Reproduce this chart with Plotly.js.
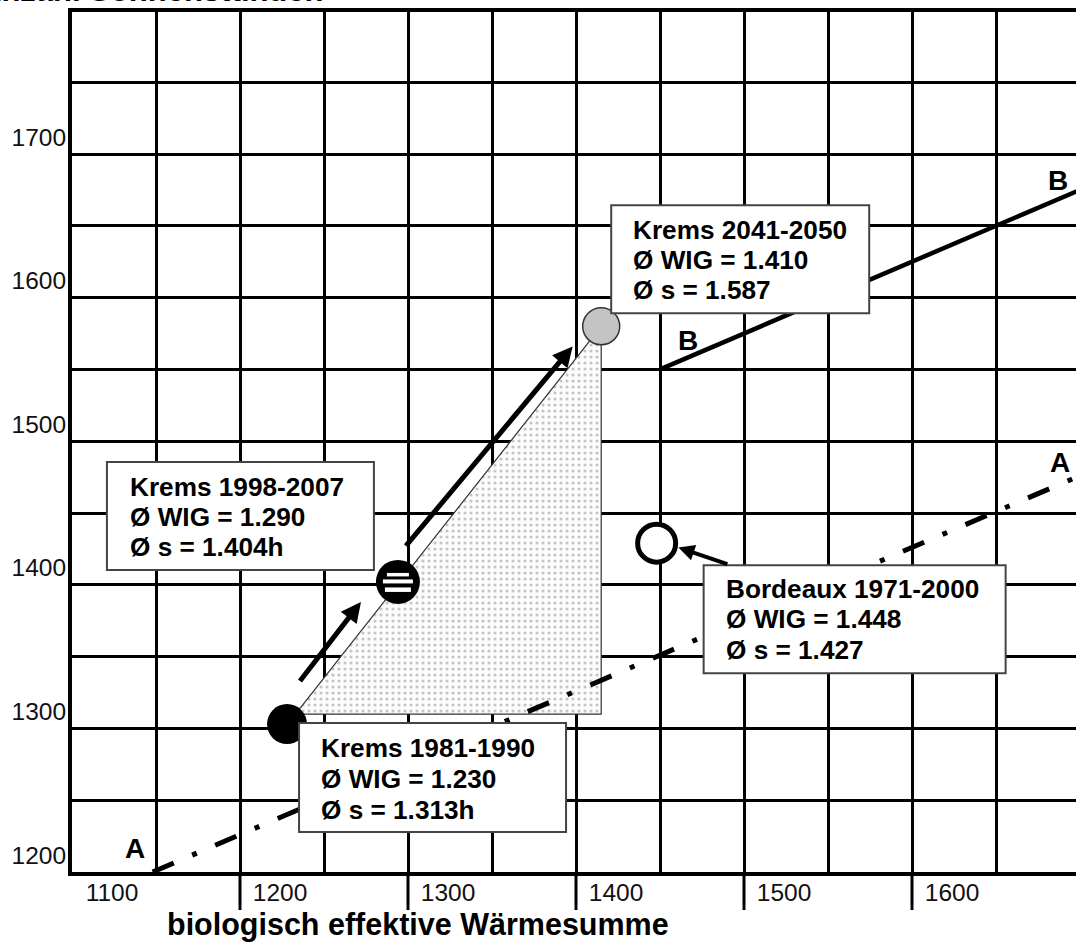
<!DOCTYPE html>
<html>
<head>
<meta charset="utf-8">
<script src="https://cdn.plot.ly/plotly-3.0.1.min.js"></script>
<style>
html, body { margin: 0; padding: 0; background: #ffffff; }
#chart { width: 1076px; height: 943px; }
</style>
</head>
<body>
<div id="chart"></div>
<script>
// ---------------- data ----------------
const siteNames = ['Krems 1981-1990', 'Krems 1998-2007', 'Krems 2041-2050', 'Bordeaux 1971-2000'];
const wigText = ['Ø WIG = 1.230', 'Ø WIG = 1.290', 'Ø WIG = 1.410', 'Ø WIG = 1.448'];
const sunText = ['Ø s = 1.313h', 'Ø s = 1.404h', 'Ø s = 1.587', 'Ø s = 1.427'];
// plotted positions of the four circles (biologisch effektive Wärmesumme / Sonnenstunden)
const wigPos = [1228, 1294, 1415, 1448];
const sunPos = [1303, 1402, 1580, 1429];
// shaded triangle
const shadeWig = [1233, 1415, 1415, 1233];
const shadeSun = [1310, 1580, 1310, 1310];
// reference lines A (dash-dot) and B (solid)
const lineAWig = [1148, 1700];
const lineASun = [1200, 1476];
const lineBWig = [1450, 1700];
const lineBSun = [1550, 1675];
const lineLabels = ['A', 'B'];
// arrows (tail -> head)
const arrowTailWig = [1235, 1298, 1491];
const arrowTailSun = [1332, 1426, 1414];
const arrowHeadWig = [1272, 1398, 1461];
const arrowHeadSun = [1388, 1566, 1426];
// axis ticks
const xTickVals = [1100, 1200, 1300, 1400, 1500, 1600];
const xTickText = ['1100', '1200', '1300', '1400', '1500', '1600'];
const yTickVals = [1200, 1300, 1400, 1500, 1600, 1700];
const yTickText = ['1200', '1300', '1400', '1500', '1600', '1700'];
const xTitle = 'biologisch effektive Wärmesumme';
const yTitle = 'Anzahl Sonnenstunden';

// ---------------- layout helpers ----------------
const FONT = 'Liberation Sans, Arial, sans-serif';
const L = 72, T = 12, W = 1076, H = 943, PW = 1004, PH = 860;
const XPX = 1.68, YPX = 1.436;
const xRange = [1100, 1100 + PW / XPX];
const yRange = [1200, 1200 + PH / YPX];
function X(px) { return 1100 + (px - L) / XPX; }
function Y(py) { return 1200 + (872 - py) / YPX; }

// ---------------- traces ----------------
const traces = [];
traces.push({
  type: 'scatter', mode: 'lines', x: shadeWig, y: shadeSun,
  fill: 'toself', fillcolor: '#fbfbfb',
  fillpattern: { shape: '.', fgcolor: '#c4c4c4', bgcolor: '#fcfcfc', size: 6, solidity: 0.22 },
  line: { color: '#333333', width: 1.2 }, hoverinfo: 'skip', showlegend: false
});
traces.push({
  type: 'scatter', mode: 'lines', x: lineAWig, y: lineASun,
  line: { color: '#000000', width: 5, dash: '23px,20px,5px,20px' }, showlegend: false
});
traces.push({
  type: 'scatter', mode: 'lines', x: lineBWig, y: lineBSun,
  line: { color: '#000000', width: 4.5 }, showlegend: false
});
const markerStyles = [
  { size: 40, color: '#000000', line: { width: 0 } },
  { size: 44, color: '#000000', line: { width: 0 } },
  { size: 37, color: '#c4c4c4', line: { color: '#333333', width: 1.5 } },
  { size: 38, color: '#ffffff', line: { color: '#000000', width: 5 } }
];
for (let i = 0; i < siteNames.length; i++) {
  traces.push({
    type: 'scatter', mode: 'markers', x: [wigPos[i]], y: [sunPos[i]],
    marker: markerStyles[i], name: siteNames[i], showlegend: false
  });
}

// ---------------- shapes ----------------
const shapes = [];
// extra long tick marks below the x axis
xTickVals.slice(1).forEach(v => {
  shapes.push({ type: 'line', xref: 'x', yref: 'paper', x0: v, x1: v,
    ysizemode: 'pixel', yanchor: 0, y0: 0, y1: -38,
    line: { color: '#000000', width: 3 }, layer: 'above' });
});
// white stripes in the Krems 1998-2007 circle
[[5.5, 9, 11], [-1.5, 2.5, 15], [-10, -5.5, 13]].forEach(s => {
  shapes.push({ type: 'rect', xref: 'x', yref: 'y',
    xsizemode: 'pixel', ysizemode: 'pixel', xanchor: wigPos[1], yanchor: sunPos[1],
    x0: -s[2], x1: s[2], y0: s[0], y1: s[1],
    fillcolor: '#ffffff', line: { width: 0 }, layer: 'above' });
});
// label boxes, pixel offsets relative to each circle: [x0, x1, y0, y1]
const boxOff = [[12, 279, -108, 1], [-291, -24, 12, 120], [10, 268, 13, 121], [47, 349, -130, -22]];
boxOff.forEach((b, i) => {
  shapes.push({ type: 'rect', xref: 'x', yref: 'y',
    xsizemode: 'pixel', ysizemode: 'pixel', xanchor: wigPos[i], yanchor: sunPos[i],
    x0: b[0], x1: b[1], y0: b[2], y1: b[3],
    fillcolor: '#ffffff', line: { color: '#444444', width: 2 }, layer: 'above' });
});

// ---------------- annotations ----------------
const ann = [];
const textOff = [[32, [-24, -55, -86]], [-270, [95, 65, 35]], [30, [96, 66, 36]], [67, [-46, -76, -107]]];
for (let i = 0; i < siteNames.length; i++) {
  const lines = [siteNames[i], wigText[i], sunText[i]];
  lines.forEach((t, k) => {
    ann.push({ xref: 'x', yref: 'y', x: wigPos[i], y: sunPos[i], text: t, showarrow: false,
      xanchor: 'left', yanchor: 'middle', xshift: textOff[i][0], yshift: textOff[i][1][k],
      font: { family: FONT, size: 26.2, color: '#000000', weight: 'bold' } });
  });
}
// arrows
const arrowWidths = [5, 5, 4];
for (let i = 0; i < arrowTailWig.length; i++) {
  ann.push({ xref: 'x', yref: 'y', axref: 'x', ayref: 'y',
    x: arrowHeadWig[i], y: arrowHeadSun[i], ax: arrowTailWig[i], ay: arrowTailSun[i],
    text: '', showarrow: true, arrowhead: 2, arrowsize: 0.8, arrowwidth: arrowWidths[i],
    arrowcolor: '#000000', standoff: 0, startstandoff: 0 });
}
// line labels A / B
const lblPos = [[135, 848, 0], [1060, 462, 0], [688, 340, 1], [1058, 180, 1]];
lblPos.forEach(p => {
  ann.push({ xref: 'x', yref: 'y', x: X(p[0]), y: Y(p[1]), text: lineLabels[p[2]], showarrow: false,
    xanchor: 'center', yanchor: 'middle',
    font: { family: FONT, size: 28, color: '#000000', weight: 'bold' } });
});
// axis titles
ann.push({ xref: 'paper', yref: 'paper', x: 0, y: 0, xanchor: 'left', yanchor: 'top',
  xshift: 93, yshift: -33, text: xTitle, showarrow: false,
  font: { family: FONT, size: 30.5, color: '#000000', weight: 'bold' } });
ann.push({ xref: 'paper', yref: 'paper', x: 0, y: 1, xanchor: 'left', yanchor: 'bottom',
  xshift: -95, yshift: 2, text: yTitle, showarrow: false,
  font: { family: FONT, size: 31, color: '#000000', weight: 'bold' } });

// ---------------- layout ----------------
const gridStyle = { showgrid: true, gridcolor: '#000000', gridwidth: 3 };
const layout = {
  width: W, height: H,
  margin: { l: L, r: W - L - PW, t: T, b: H - T - PH, pad: 0 },
  paper_bgcolor: '#ffffff', plot_bgcolor: '#ffffff',
  showlegend: false,
  xaxis: Object.assign({
    range: xRange, tickmode: 'array', tickvals: xTickVals, ticktext: xTickText,
    ticks: '', showline: true, linecolor: '#000000', linewidth: 4, mirror: true,
    zeroline: false, ticklabelshift: 40, ticklabelstandoff: -4,
    tickfont: { family: FONT, size: 24.5, color: '#111111' },
    minor: { tickmode: 'linear', tick0: 1150, dtick: 100, showgrid: true, gridcolor: '#000000', gridwidth: 3 }
  }, gridStyle),
  yaxis: Object.assign({
    range: yRange, tickmode: 'array', tickvals: yTickVals, ticktext: yTickText,
    ticks: '', showline: true, linecolor: '#000000', linewidth: 4, mirror: false,
    zeroline: false, ticklabelshift: -17, ticklabelstandoff: -3,
    tickfont: { family: FONT, size: 24.5, color: '#111111' },
    minor: { tickmode: 'linear', tick0: 1250, dtick: 100, showgrid: true, gridcolor: '#000000', gridwidth: 3 }
  }, gridStyle),
  shapes: shapes,
  annotations: ann
};

Plotly.newPlot('chart', traces, layout, { displayModeBar: false, staticPlot: true });
</script>
</body>
</html>
